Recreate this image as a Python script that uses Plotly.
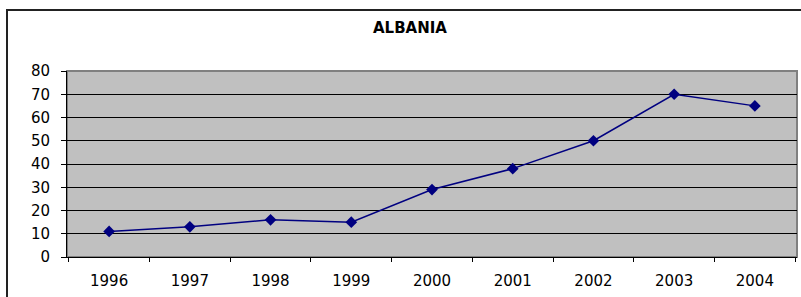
import plotly.graph_objects as go

years = ["1996", "1997", "1998", "1999", "2000", "2001", "2002", "2003", "2004"]
values = [11, 13, 16, 15, 29, 38, 50, 70, 65]
y_ticks = [0, 10, 20, 30, 40, 50, 60, 70, 80]

W, H = 801, 297
L, R, T, B = 67, 4, 71, 40
pw = W - L - R
ph = H - T - B

fig = go.Figure()
fig.add_trace(go.Scatter(
    x=years, y=values, mode="lines+markers",
    line=dict(color="#000080", width=1.5),
    marker=dict(symbol="diamond", size=9, color="#000080"),
    showlegend=False, cliponaxis=False,
))

def px_x(p):
    return (p - L) / pw

def px_y(p):
    return (H - B - p) / ph

FONT = "DejaVu Sans, Arial, sans-serif"

fig.update_layout(
    width=W, height=H,
    margin=dict(l=L, r=R, t=T, b=B, pad=0),
    paper_bgcolor="white",
    plot_bgcolor="#C0C0C0",
    font=dict(family=FONT, size=15, color="black"),
    title=dict(text="<b>ALBANIA</b>", x=410 / W, xanchor="center",
               y=1 - 28 / H, yanchor="middle", yref="container",
               font=dict(family=FONT, size=15, color="black")),
    xaxis=dict(type="category", tickson="boundaries", ticks="outside",
               ticklen=4, tickcolor="black", showgrid=False,
               showline=True, linecolor="black", linewidth=1,
               tickfont=dict(size=15), ticklabelstandoff=10, automargin=False),
    yaxis=dict(range=[0, 80], tickvals=y_ticks, ticks="outside", ticklen=5,
               tickcolor="black", showgrid=True, gridcolor="black", gridwidth=1,
               showline=True, linecolor="black", linewidth=1, zeroline=False,
               tickfont=dict(size=15), ticklabelstandoff=8, automargin=False),
    shapes=[
        dict(type="rect", xref="paper", yref="paper",
             x0=0, y0=0, x1=1, y1=1,
             line=dict(color="#808080", width=2), layer="below"),
        dict(type="rect", xref="paper", yref="paper",
             x0=px_x(7), y0=px_y(305), x1=px_x(810), y1=px_y(10),
             line=dict(color="#222222", width=2)),
    ],
)

fig.write_html("out.html",
               config={"displayModeBar": False},
               post_script="document.body.style.margin='0';document.body.style.overflow='hidden';")
